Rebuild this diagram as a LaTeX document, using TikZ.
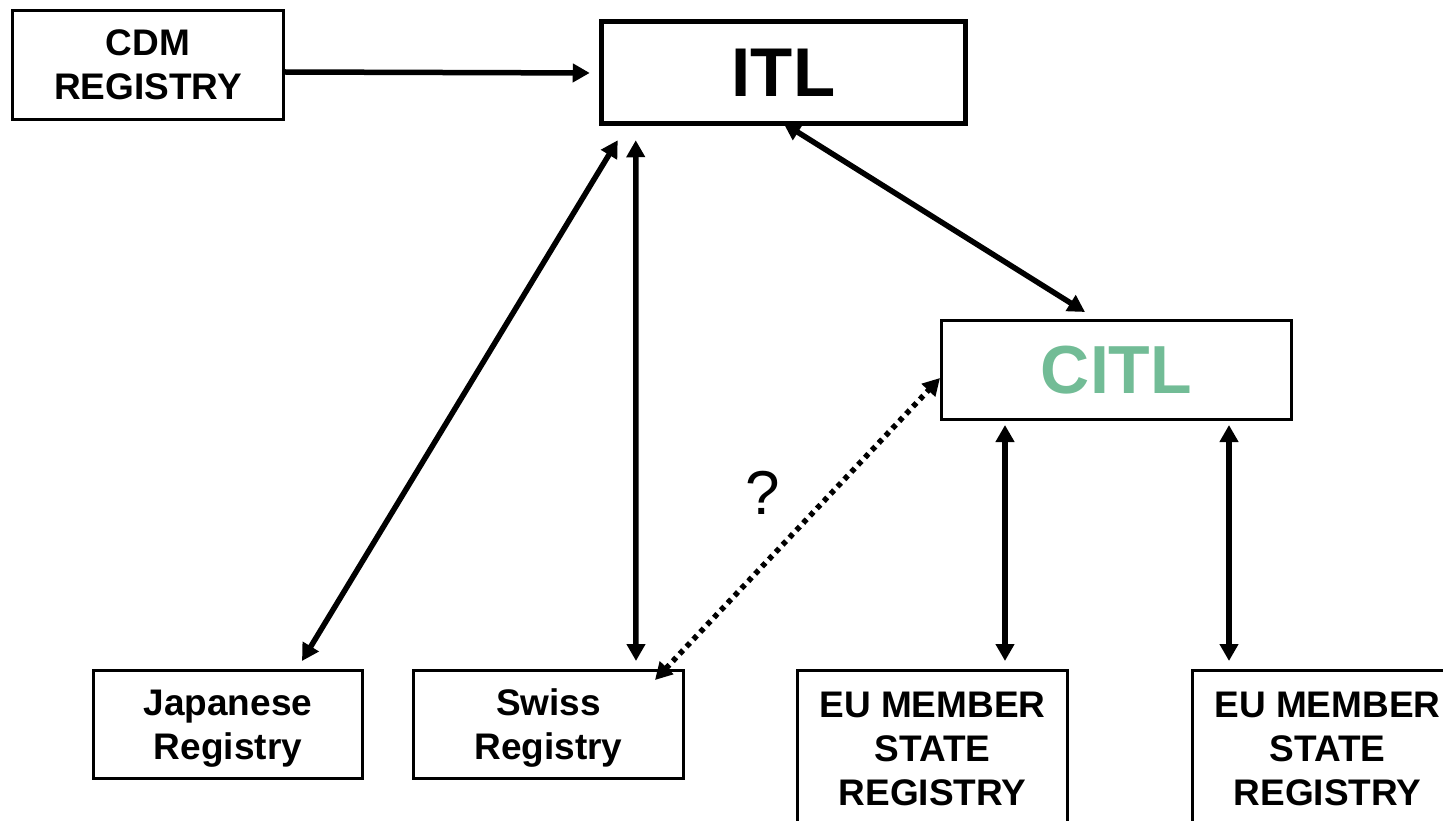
\documentclass[tikz,border=0pt]{standalone}
\usepackage{fontspec}
\setmainfont{Liberation Sans}
\usetikzlibrary{arrows.meta,calc}
\definecolor{citlgreen}{RGB}{114,188,150}

\begin{document}
\begin{tikzpicture}[x=1pt,y=-1pt,
  regbox/.style={draw,line width=3pt,inner sep=0pt,align=center,font=\fontsize{37}{44}\selectfont\bfseries},
  twoway/.style={{Triangle[length=17pt,width=18pt]}-{Triangle[length=17pt,width=18pt]},line width=5.5pt},
  oneway/.style={-{Triangle[length=17pt,width=18pt]},line width=5.5pt},
  maybe/.style={twoway,dash pattern=on 5pt off 5pt}]
\useasboundingbox (0,0) rectangle (1443,821);
% registries
\node[regbox,minimum width=271pt,minimum height=109pt] (cdm) at (148,65) {CDM\\REGISTRY};
\node[draw,line width=5.5pt,inner sep=0pt,minimum width=364pt,minimum height=102pt,font=\fontsize{69}{69}\selectfont\bfseries] (itl) at (783.5,72.5) {ITL};
\node[regbox,minimum width=350pt,minimum height=99pt,text=citlgreen,font=\fontsize{68}{68}\selectfont\bfseries] (citl) at (1116.5,370) {CITL};
\node[regbox,minimum width=269pt,minimum height=108pt,text depth=0pt] (jap) at (228,724.5) {Japanese\\Registry};
\node[regbox,minimum width=270pt,minimum height=108pt,text depth=0pt] (swiss) at (548.5,724.5) {Swiss\\Registry};
\node[regbox,minimum width=270pt,minimum height=157pt] (eua) at (932.5,749) {EU MEMBER\\STATE\\REGISTRY};
\node[regbox,minimum width=270pt,minimum height=157pt] (eub) at (1327.5,749) {EU MEMBER\\STATE\\REGISTRY};
\node[font=\fontsize{62}{62}\selectfont] (qmark) at (763,493) {?};
% links
\draw[oneway,shorten >=9pt] ([yshift=-7pt]cdm.east) -- ([yshift=-0.5pt]itl.west);
\draw[twoway] ([xshift=74pt,yshift=8pt]jap.north) -- ([xshift=19pt,yshift=-14pt]itl.south west);
\draw[twoway] ([xshift=87.5pt,yshift=8pt]swiss.north) -- ([xshift=37pt,yshift=-14pt]itl.south west);
\draw[twoway] ([yshift=3pt]itl.south) -- ([xshift=-31.5pt,yshift=7pt]citl.north);
\draw[maybe] ([xshift=-30pt,yshift=-11pt]swiss.north east) -- ([yshift=-8pt]citl.west);
\draw[twoway] ([xshift=-111.5pt,yshift=-4pt]citl.south) -- ([xshift=72.5pt,yshift=8pt]eua.north);
\draw[twoway] ([xshift=112.5pt,yshift=-4pt]citl.south) -- ([xshift=-98.5pt,yshift=8pt]eub.north);
\end{tikzpicture}
\end{document}
